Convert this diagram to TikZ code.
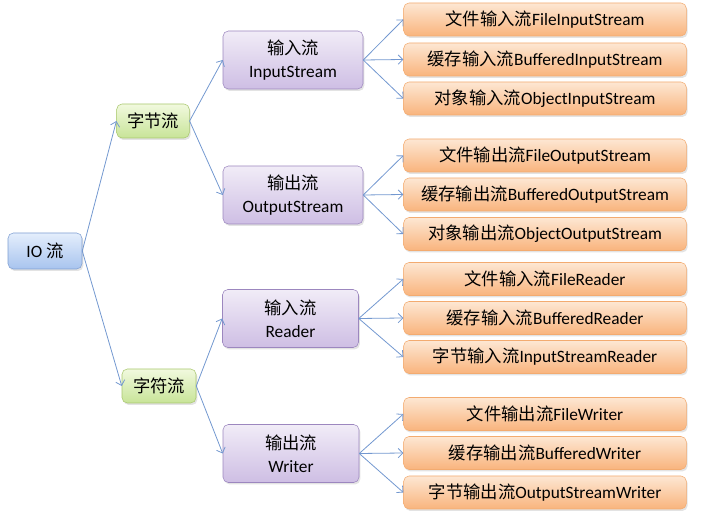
\documentclass[tikz,border=0pt]{standalone}
\usepackage{fontspec}
\setmainfont{Carlito}
\newfontfamily\cjk{Noto Sans CJK SC}
\usetikzlibrary{arrows.meta,shadows}

\definecolor{iotop}{HTML}{E4EEFC}
\definecolor{iobot}{HTML}{A8C4EE}
\definecolor{iobd}{HTML}{7E9ED2}
\definecolor{grtop}{HTML}{F1F9DE}
\definecolor{grbot}{HTML}{C8E498}
\definecolor{grbd}{HTML}{A9C76E}
\definecolor{putop}{HTML}{F1ECF7}
\definecolor{pubot}{HTML}{CEBEE4}
\definecolor{pubd}{HTML}{9C87BF}
\definecolor{ortop}{HTML}{FDE7D3}
\definecolor{orbot}{HTML}{F9B47D}
\definecolor{orbd}{HTML}{F3AB70}
\definecolor{linkblue}{HTML}{7398D0}

\tikzset{
  box/.style={draw, rounded corners=4pt, align=center, inner sep=0pt,
    font=\fontsize{13}{17.25}\selectfont,
    drop shadow={opacity=0.22, shadow xshift=1pt, shadow yshift=-1.5pt}},
  iobox/.style={box, draw=iobd, top color=iotop, bottom color=iobot,
    minimum width=55.5pt, minimum height=27pt},
  kindbox/.style={box, draw=grbd, top color=grtop, bottom color=grbot,
    minimum width=54.5pt, minimum height=25.5pt},
  basebox/.style={box, draw=pubd, top color=putop, bottom color=pubot,
    minimum height=43.5pt},
  classbox/.style={box, draw=orbd, top color=ortop, bottom color=orbot,
    minimum width=212pt, minimum height=24.75pt},
  link/.style={draw=linkblue, line width=0.6pt,
    -{Straight Barb[length=3.5pt,width=7pt]}},
}

\begin{document}
\begin{tikzpicture}[x=0.75pt, y=-0.75pt]
  \useasboundingbox (0,0) rectangle (726,516);

  % root and the two kinds
  \node[iobox] (io) at (45,251) {IO {\cjk 流}};
  \node[kindbox] (byte) at (153,121) {\cjk 字节流};
  \node[kindbox, minimum width=55.5pt] (char) at (159,386) {\cjk 字符流};

  % base classes
  \node[basebox, minimum width=105pt] (in) at (293,60) {{\cjk 输入流}\\InputStream};
  \node[basebox, minimum width=105pt] (out) at (293,195) {{\cjk 输出流}\\OutputStream};
  \node[basebox, minimum width=102pt] (reader) at (290.5,318.5) {{\cjk 输入流}\\Reader};
  \node[basebox, minimum width=102pt] (writer) at (291,453.5) {{\cjk 输出流}\\Writer};

  % concrete classes
  \node[classbox] (fis) at (545,19.5) {{\cjk 文件输入流}FileInputStream};
  \node[classbox] (bis) at (545,59.5) {{\cjk 缓存输入流}BufferedInputStream};
  \node[classbox] (ois) at (545,98.5) {{\cjk 对象输入流}ObjectInputStream};
  \node[classbox] (fos) at (545,155.5) {{\cjk 文件输出流}FileOutputStream};
  \node[classbox] (bos) at (545,194.5) {{\cjk 缓存输出流}BufferedOutputStream};
  \node[classbox] (oos) at (545,234) {{\cjk 对象输出流}ObjectOutputStream};
  \node[classbox] (fr) at (545,279) {{\cjk 文件输入流}FileReader};
  \node[classbox] (br) at (545,318) {{\cjk 缓存输入流}BufferedReader};
  \node[classbox] (isr) at (545,357) {{\cjk 字节输入流}InputStreamReader};
  \node[classbox] (fw) at (545,414) {{\cjk 文件输出流}FileWriter};
  \node[classbox] (bw) at (545,453) {{\cjk 缓存输出流}BufferedWriter};
  \node[classbox] (osw) at (545,492.5) {{\cjk 字节输出流}OutputStreamWriter};

  % connectors
  \draw[link] (io.east) -- (byte.west);
  \draw[link] (io.east) -- (char.west);
  \draw[link] (byte.east) -- (in.west);
  \draw[link] (byte.east) -- (out.west);
  \draw[link] (char.east) -- (reader.west);
  \draw[link] (char.east) -- (writer.west);
  \draw[link] (in.east) -- (fis.west);
  \draw[link] (in.east) -- (bis.west);
  \draw[link] (in.east) -- (ois.west);
  \draw[link] (out.east) -- (fos.west);
  \draw[link] (out.east) -- (bos.west);
  \draw[link] (out.east) -- (oos.west);
  \draw[link] (reader.east) -- (fr.west);
  \draw[link] (reader.east) -- (br.west);
  \draw[link] (reader.east) -- (isr.west);
  \draw[link] (writer.east) -- (fw.west);
  \draw[link] (writer.east) -- (bw.west);
  \draw[link] (writer.east) -- (osw.west);
\end{tikzpicture}
\end{document}
